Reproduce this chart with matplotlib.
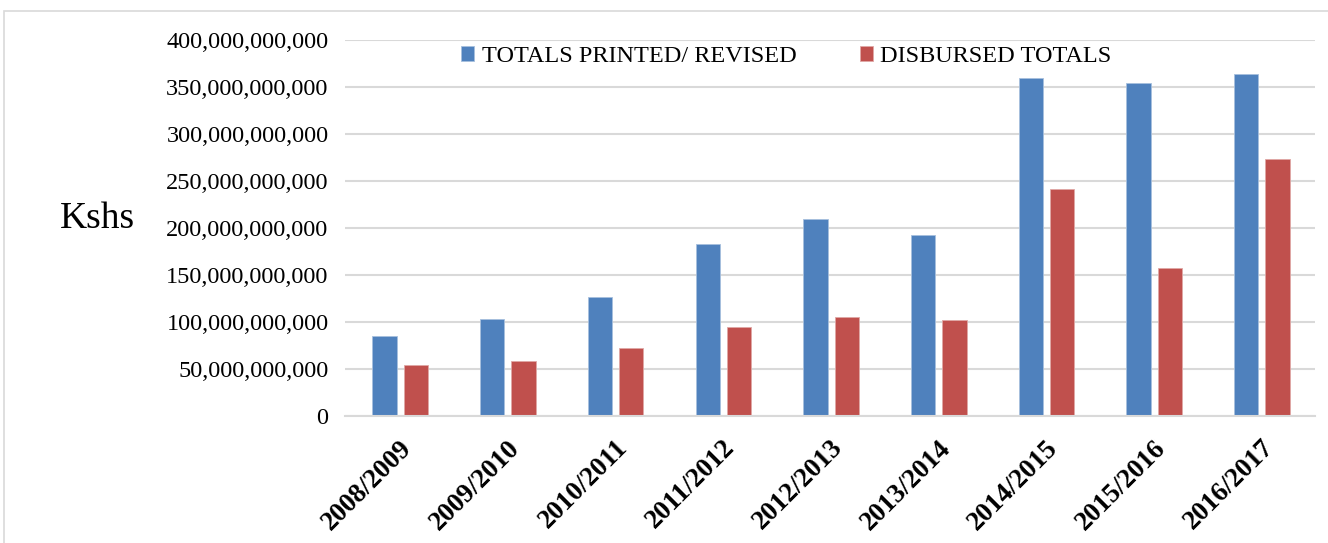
import matplotlib.pyplot as plt
import matplotlib.ticker as mticker
from matplotlib.patches import Rectangle
import numpy as np

# %% Data (billions of Kshs)
years = ['2008/2009', '2009/2010', '2010/2011', '2011/2012', '2012/2013',
         '2013/2014', '2014/2015', '2015/2016', '2016/2017']
printed = [85, 103, 126.5, 183, 209.5, 192.5, 359.5, 354, 364]
disbursed = [54, 58.5, 72, 94.5, 105, 102, 242, 157.5, 273]

printed = np.array(printed) * 1e9
disbursed = np.array(disbursed) * 1e9

plt.rcParams['font.family'] = ['Liberation Serif', 'DejaVu Serif']

# %% Plot
fig = plt.figure(figsize=(13.28, 5.43), dpi=100)
ax = fig.add_axes([0.26, 0.234, 0.73, 0.692])

# light frame around the whole chart
fig.patches.append(Rectangle((4 / 1328, -0.05), 1.1, (543 - 11) / 543 + 0.05,
                             transform=fig.transFigure, fill=False,
                             edgecolor='#D9D9D9', linewidth=1.2))

x = np.arange(len(years))
w = 0.225
ax.bar(x - 0.135, printed, w, color='#4F81BD', edgecolor='#A7C0DE',
       linewidth=0.6, label='TOTALS PRINTED/ REVISED', zorder=3)
ax.bar(x + 0.155, disbursed, w, color='#C0504D', edgecolor='#E0A8A6',
       linewidth=0.6, label='DISBURSED TOTALS', zorder=3)

ax.set_xlim(-0.5, len(years) - 0.5)
ax.set_ylim(0, 400e9)
ax.yaxis.set_major_locator(mticker.MultipleLocator(50e9))
ax.yaxis.set_major_formatter(mticker.FuncFormatter(lambda v, p: f'{v:,.0f}'))
ax.grid(axis='y', color='#D9D9D9', linewidth=1.5, zorder=0)

for s in ['top', 'right', 'left']:
    ax.spines[s].set_visible(False)
ax.spines['bottom'].set_color('#D9D9D9')
ax.spines['bottom'].set_linewidth(1.5)
ax.spines['bottom'].set_zorder(4)

ax.tick_params(axis='both', length=0, labelsize=17.5)
ax.tick_params(axis='y', pad=12)
ax.tick_params(axis='x', pad=14)
ax.set_xticks(x)
ax.set_xticklabels(years, rotation=45, ha='right', rotation_mode='anchor',
                   fontweight='bold', fontsize=19.5)

fig.text(0.073, 0.598, 'Kshs', fontsize=27, ha='center', va='center')

ax.legend(loc='center', bbox_to_anchor=(0.455, 0.957), ncol=2, frameon=False,
          fontsize=17.5, handlelength=0.55, handleheight=0.55, handletextpad=0.3,
          columnspacing=2.6)

plt.savefig('out.png', dpi=100)
